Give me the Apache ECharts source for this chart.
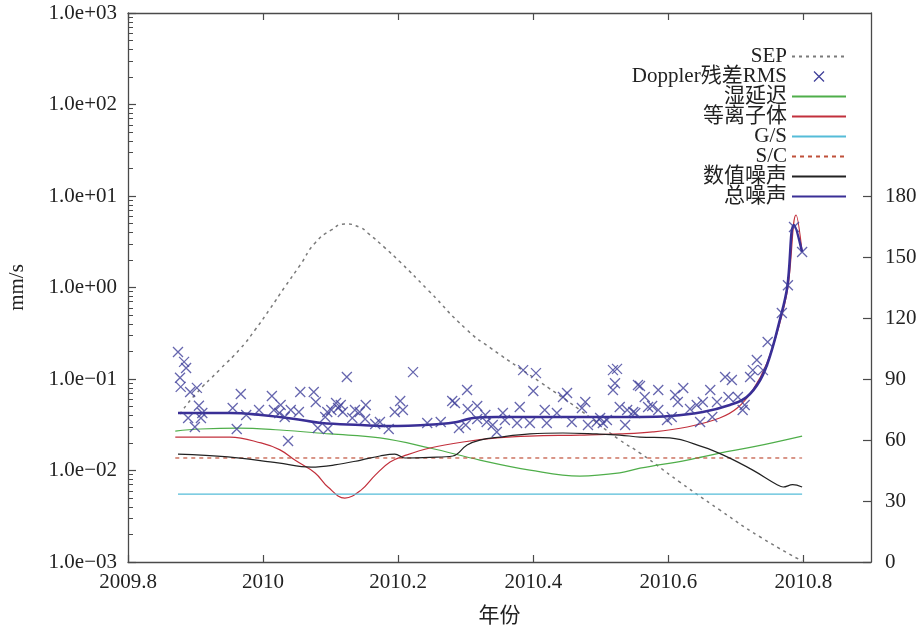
<!DOCTYPE html>
<html>
<head>
<meta charset="utf-8">
<script src="https://cdn.jsdelivr.net/npm/echarts@6/dist/echarts.min.js"></script>
<style>
  html, body { margin: 0; padding: 0; background: #fff; }
  #chart { width: 922px; height: 631px; }
</style>
</head>
<body>
<div id="chart"></div>
<script>
// Sun-Earth-Probe angle (deg, right axis) against year
const sepAngle = [
  [2009.877, 72.8], [2009.899, 82.1], [2009.936, 94.7], [2009.967, 105.2],
  [2009.988, 114.1], [2010.010, 124.4], [2010.032, 135.2], [2010.055, 146.1],
  [2010.077, 156.9], [2010.101, 163.3], [2010.121, 166.2], [2010.143, 164.6],
  [2010.155, 161.8], [2010.180, 154.6], [2010.203, 147.5], [2010.244, 133.8],
  [2010.302, 114.1], [2010.337, 105.2], [2010.410, 88.5], [2010.469, 74.8],
  [2010.528, 60.0], [2010.558, 53.6], [2010.617, 39.3], [2010.676, 25.6],
  [2010.736, 12.3], [2010.798, 0.5]
];

// Doppler residual RMS (mm/s)
const dopplerRms = [
  [2009.874, 0.197], [2009.883, 0.154], [2009.886, 0.132], [2009.877, 0.103],
  [2009.878, 0.082], [2009.892, 0.072], [2009.902, 0.080], [2009.905, 0.051],
  [2009.889, 0.0375], [2009.910, 0.0425], [2009.908, 0.0375], [2009.899, 0.0299],
  [2009.967, 0.0686], [2009.955, 0.0482], [2009.975, 0.0404], [2009.961, 0.0284],
  [2009.994, 0.0458], [2010.013, 0.0652], [2010.016, 0.0458], [2010.026, 0.0520],
  [2010.024, 0.0425], [2010.032, 0.0385], [2010.041, 0.0458], [2010.053, 0.0436],
  [2010.055, 0.0721], [2010.037, 0.0210], [2010.075, 0.0721], [2010.078, 0.0561],
  [2010.081, 0.0291], [2010.092, 0.0385], [2010.096, 0.0284], [2010.095, 0.0436],
  [2010.101, 0.0458], [2010.108, 0.0547], [2010.115, 0.0520], [2010.111, 0.0482],
  [2010.118, 0.0436], [2010.124, 0.105], [2010.132, 0.0375], [2010.136, 0.0458],
  [2010.143, 0.0436], [2010.152, 0.0520], [2010.151, 0.0366], [2010.166, 0.0322],
  [2010.173, 0.0339], [2010.186, 0.0284], [2010.222, 0.119], [2010.195, 0.0436],
  [2010.203, 0.0575], [2010.207, 0.0458], [2010.243, 0.0330], [2010.263, 0.0339],
  [2010.280, 0.0575], [2010.284, 0.0547], [2010.290, 0.0291], [2010.302, 0.0759],
  [2010.303, 0.0470], [2010.300, 0.0314], [2010.317, 0.0507], [2010.317, 0.0366],
  [2010.329, 0.0404], [2010.331, 0.0339], [2010.340, 0.0314], [2010.346, 0.0264],
  [2010.355, 0.0425], [2010.358, 0.0356], [2010.376, 0.0330], [2010.380, 0.0494],
  [2010.385, 0.125], [2010.404, 0.116], [2010.400, 0.0740], [2010.395, 0.0330],
  [2010.417, 0.0458], [2010.420, 0.0330], [2010.435, 0.0425], [2010.444, 0.0636],
  [2010.450, 0.0703], [2010.457, 0.0339], [2010.472, 0.0482], [2010.477, 0.0561],
  [2010.481, 0.0314], [2010.494, 0.0339], [2010.499, 0.0375], [2010.503, 0.0330],
  [2010.509, 0.0356], [2010.518, 0.125], [2010.524, 0.129], [2010.521, 0.090],
  [2010.518, 0.0759], [2010.528, 0.0494], [2010.539, 0.0458], [2010.536, 0.0314],
  [2010.548, 0.0436], [2010.555, 0.0860], [2010.551, 0.0425], [2010.558, 0.0838],
  [2010.565, 0.0636], [2010.570, 0.0494], [2010.576, 0.0507], [2010.585, 0.0759],
  [2010.585, 0.0458], [2010.598, 0.0356], [2010.605, 0.0385], [2010.610, 0.0668],
  [2010.614, 0.0561], [2010.622, 0.0797], [2010.632, 0.0470], [2010.642, 0.0520],
  [2010.647, 0.0339], [2010.651, 0.0561], [2010.662, 0.0759], [2010.665, 0.0385],
  [2010.672, 0.0561], [2010.684, 0.105], [2010.694, 0.0975], [2010.689, 0.0636],
  [2010.703, 0.0636], [2010.710, 0.0458], [2010.713, 0.0520], [2010.721, 0.105],
  [2010.725, 0.125], [2010.731, 0.161], [2010.740, 0.125], [2010.747, 0.254],
  [2010.768, 0.526], [2010.777, 1.06], [2010.786, 4.58], [2010.798, 2.44]
];

// Wet tropospheric delay noise
const wetDelay = [
  [2009.870, 0.0270], [2009.907, 0.0284], [2009.963, 0.0291], [2010.025, 0.0277],
  [2010.099, 0.0251], [2010.173, 0.0227], [2010.247, 0.0176], [2010.321, 0.0130],
  [2010.395, 0.0101], [2010.469, 0.0087], [2010.528, 0.0094], [2010.558, 0.0106],
  [2010.628, 0.0130], [2010.676, 0.0155], [2010.725, 0.0181], [2010.798, 0.0238]
];

// Plasma noise
const plasma = [
  [2009.870, 0.0232], [2009.907, 0.0232], [2009.951, 0.0232], [2009.997, 0.0200],
  [2010.025, 0.0168], [2010.047, 0.0130], [2010.077, 0.0094], [2010.096, 0.0066],
  [2010.121, 0.0050], [2010.145, 0.0061], [2010.166, 0.0089], [2010.188, 0.0124],
  [2010.213, 0.0148], [2010.247, 0.0176], [2010.296, 0.0205], [2010.346, 0.0227],
  [2010.395, 0.0238], [2010.469, 0.0244], [2010.528, 0.0251], [2010.577, 0.0264],
  [2010.628, 0.0299], [2010.676, 0.0375], [2010.702, 0.0482], [2010.725, 0.0759],
  [2010.746, 0.150], [2010.765, 0.409], [2010.777, 1.01], [2010.789, 6.2],
  [2010.798, 2.44]
];

// Ground station and spacecraft noise (constant)
const groundStation = [[2009.874, 0.00553], [2010.798, 0.00553]];
const spacecraft = [[2009.870, 0.0137], [2010.798, 0.0137]];

// Numerical noise
const numerical = [
  [2009.874, 0.0151], [2009.948, 0.0141], [2010.022, 0.0121], [2010.071, 0.0109],
  [2010.106, 0.0115], [2010.145, 0.0130], [2010.173, 0.0144], [2010.195, 0.0151],
  [2010.210, 0.0137], [2010.247, 0.0139], [2010.281, 0.0144], [2010.302, 0.0190],
  [2010.321, 0.0215], [2010.351, 0.0232], [2010.395, 0.0251], [2010.444, 0.0257],
  [2010.494, 0.0251], [2010.528, 0.0244], [2010.558, 0.0232], [2010.602, 0.0227],
  [2010.651, 0.0181], [2010.687, 0.0141], [2010.725, 0.0101], [2010.761, 0.0070],
  [2010.770, 0.0066], [2010.784, 0.0070], [2010.798, 0.0066]
];

// Total noise
const totalNoise = [
  [2009.874, 0.0425], [2009.951, 0.0425], [2009.997, 0.0404], [2010.047, 0.0366],
  [2010.086, 0.0330], [2010.145, 0.0314], [2010.185, 0.0306], [2010.262, 0.0322],
  [2010.287, 0.0339], [2010.311, 0.0375], [2010.346, 0.0385], [2010.420, 0.0385],
  [2010.558, 0.0385], [2010.602, 0.0394], [2010.651, 0.0436], [2010.691, 0.0520],
  [2010.716, 0.0636], [2010.736, 0.0975], [2010.750, 0.174], [2010.765, 0.441],
  [2010.776, 1.01], [2010.786, 4.82], [2010.798, 2.44]
];

// Axis ticks
const yearTicks = [2009.8, 2010, 2010.2, 2010.4, 2010.6, 2010.8];
const rmsTicks = [1e-3, 1e-2, 1e-1, 1, 10, 100, 1000];
const angleTicks = [0, 30, 60, 90, 120, 150, 180];
const rmsMinorTicks = [];
for (let d = -3; d < 3; d++) {
  for (let k = 2; k <= 9; k++) rmsMinorTicks.push(k * Math.pow(10, d));
}

const FONT = '"Liberation Serif", "Noto Sans CJK SC", serif';
const AXIS_COLOR = '#4a4a4a';
const TEXT_COLOR = '#222';
const X_MARK = 'path://M0,0L10,10M10,0L0,10';
const X_COLOR = '#40409a';

function expLabel(v) {
  const e = Math.round(Math.log10(v));
  const sign = e < 0 ? '\u2212' : '+';
  const n = Math.abs(e);
  return '1.0e' + sign + (n < 10 ? '0' + n : String(n));
}

function lineSeries(name, data, color, width, type, smooth, yAxisIndex, z) {
  return {
    name: name, type: 'line', xAxisIndex: 0, yAxisIndex: yAxisIndex,
    data: data, showSymbol: false, smooth: smooth,
    lineStyle: { color: color, width: width, type: type },
    itemStyle: { color: color }, z: z
  };
}

const chart = echarts.init(document.getElementById('chart'), null, { renderer: 'canvas' });

const axisLine = { show: true, lineStyle: { color: AXIS_COLOR, width: 1.3 } };

chart.setOption({
  animation: false,
  backgroundColor: '#ffffff',
  textStyle: { fontFamily: FONT },
  grid: { left: 128, right: 51, top: 13, bottom: 69, containLabel: false, outerBoundsMode: 'none' },
  legend: {
    orient: 'vertical',
    right: 70,
    top: 41,
    align: 'right',
    itemWidth: 54,
    itemHeight: 10,
    itemGap: -1,
    // line entries show only their stroke
    itemStyle: { opacity: 0 },
    textStyle: { fontFamily: FONT, fontSize: 21, color: TEXT_COLOR, lineHeight: 19.7 },
    data: [
      'SEP',
      {
        name: 'Doppler残差RMS', icon: X_MARK,
        itemStyle: { opacity: 1, color: 'rgba(0,0,0,0)', borderColor: X_COLOR, borderWidth: 1.3 }
      },
      '湿延迟', '等离子体', 'G/S', 'S/C', '数值噪声', '总噪声'
    ]
  },
  xAxis: [
    {
      type: 'value', min: 2009.8, max: 2010.9, position: 'bottom',
      name: '年份', nameLocation: 'middle', nameGap: 44,
      nameTextStyle: { fontFamily: FONT, fontSize: 21, color: TEXT_COLOR },
      axisLine: axisLine,
      axisTick: { show: true, inside: true, length: 7, customValues: yearTicks, lineStyle: { color: AXIS_COLOR, width: 1.2 } },
      axisLabel: {
        show: true, customValues: yearTicks, margin: 10,
        fontFamily: FONT, fontSize: 21, color: TEXT_COLOR,
        formatter: v => String(Math.round(v * 10) / 10)
      },
      splitLine: { show: false }
    },
    {
      type: 'value', min: 2009.8, max: 2010.9, position: 'top',
      axisLine: axisLine,
      axisTick: { show: true, inside: true, length: 7, customValues: yearTicks, lineStyle: { color: AXIS_COLOR, width: 1.2 } },
      axisLabel: { show: false },
      splitLine: { show: false }
    }
  ],
  yAxis: [
    {
      type: 'log', logBase: 10, min: 1e-3, max: 1e3, position: 'left',
      name: 'mm/s', nameLocation: 'middle', nameGap: 100,
      nameTextStyle: { fontFamily: FONT, fontSize: 21, color: TEXT_COLOR },
      axisLine: axisLine,
      axisTick: { show: true, inside: true, length: 8, customValues: rmsTicks, lineStyle: { color: AXIS_COLOR, width: 1.2 } },
      axisLabel: {
        show: true, customValues: rmsTicks, margin: 11,
        fontFamily: FONT, fontSize: 21, color: TEXT_COLOR,
        formatter: expLabel
      },
      splitLine: { show: false }
    },
    {
      type: 'log', logBase: 10, min: 1e-3, max: 1e3, position: 'left', offset: 0,
      axisLine: { show: false },
      axisTick: { show: true, inside: true, length: 5, customValues: rmsMinorTicks, lineStyle: { color: AXIS_COLOR, width: 1 } },
      axisLabel: { show: false },
      splitLine: { show: false }
    },
    {
      type: 'value', min: 0, max: 270, position: 'right',
      axisLine: axisLine,
      axisTick: { show: true, inside: true, length: 8, customValues: angleTicks, lineStyle: { color: AXIS_COLOR, width: 1.2 } },
      axisLabel: {
        show: true, customValues: angleTicks, margin: 14,
        fontFamily: FONT, fontSize: 21, color: TEXT_COLOR
      },
      splitLine: { show: false }
    }
  ],
  series: [
    lineSeries('SEP', sepAngle, '#7a7a7a', 1.5, [3, 4], 0.6, 2, 2),
    {
      name: 'Doppler残差RMS', type: 'scatter', xAxisIndex: 0, yAxisIndex: 0,
      data: dopplerRms,
      symbol: X_MARK, symbolSize: 10,
      itemStyle: { color: 'rgba(0,0,0,0)', borderColor: X_COLOR, borderWidth: 1.3 },
      z: 6
    },
    lineSeries('湿延迟', wetDelay, '#4fae4a', 1.2, 'solid', 0.4, 0, 3),
    lineSeries('等离子体', plasma, '#c2303c', 1.2, 'solid', 0.4, 0, 3),
    lineSeries('G/S', groundStation, '#55bcd8', 1.3, 'solid', false, 0, 3),
    lineSeries('S/C', spacecraft, '#c0503a', 1.2, [4, 4], false, 0, 3),
    lineSeries('数值噪声', numerical, '#222222', 1.2, 'solid', 0.4, 0, 3),
    lineSeries('总噪声', totalNoise, '#3a2f96', 2.6, 'solid', 0.4, 0, 4)
  ]
});
</script>
</body>
</html>
